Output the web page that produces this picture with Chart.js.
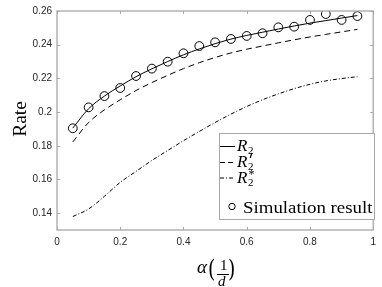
<!DOCTYPE html>
<html><head><meta charset="utf-8">
<script src="https://cdn.jsdelivr.net/npm/chart.js@4/dist/chart.umd.min.js"></script>
<style>html,body{margin:0;padding:0;background:#fff}#wrap{width:382px;height:287px;position:relative}</style>
</head><body><div id="wrap"><canvas id="c" width="382" height="287"></canvas></div>
<script>
const alphas = [0.05,0.10,0.15,0.20,0.25,0.30,0.35,0.40,0.45,0.50,0.55,0.60,0.65,0.70,0.75,0.80,0.85,0.90,0.95];
const r2 = [0.1905,0.2020,0.2095,0.2155,0.2210,0.2257,0.2300,0.2340,0.2375,0.2406,0.2433,0.2455,0.2474,0.2493,0.2511,0.2528,0.2543,0.2558,0.2573];
const r2prime = [0.1823,0.1938,0.2013,0.2073,0.2128,0.2175,0.2218,0.2258,0.2293,0.2324,0.2351,0.2373,0.2392,0.2411,0.2429,0.2446,0.2461,0.2476,0.2491];
const r2star = [0.1380,0.1425,0.1500,0.1583,0.1648,0.1713,0.1772,0.1830,0.1885,0.1938,0.1988,0.2033,0.2073,0.2108,0.2139,0.2165,0.2185,0.2199,0.2210];
const simulation = [0.1904,0.2028,0.2095,0.2143,0.2214,0.2258,0.2299,0.2349,0.2392,0.2414,0.2434,0.2452,0.2468,0.2503,0.2507,0.2547,0.2582,0.2547,0.2570];
const xTicks = [0,0.2,0.4,0.6,0.8,1];
const yTicks = [0.14,0.16,0.18,0.2,0.22,0.24,0.26];
const xTickLabels = ['0','0.2','0.4','0.6','0.8','1'];
const yTickLabels = ['0.14','0.16','0.18','0.2','0.22','0.24','0.26'];
const legendNames = ['R2','R2prime','R2star','Simulation result'];

const pts = arr => alphas.map((a,i)=>({x:a,y:arr[i]}));
const AXIS = '#a8a8a8', TXT = '#262626';

const boxPlugin = {
  id:'box',
  afterDraw(chart){
    const {ctx, chartArea:a, scales:{x,y}} = chart;
    ctx.save();
    ctx.strokeStyle = AXIS; ctx.lineWidth = 1.3;
    ctx.strokeRect(a.left, a.top, a.right-a.left, a.bottom-a.top);
    ctx.lineWidth = 1;
    xTicks.forEach(v=>{const p=Math.round(x.getPixelForValue(v))+0.5;
      ctx.beginPath();ctx.moveTo(p,a.bottom);ctx.lineTo(p,a.bottom-3);ctx.moveTo(p,a.top);ctx.lineTo(p,a.top+3);ctx.stroke();});
    yTicks.forEach(v=>{const p=Math.round(y.getPixelForValue(v))+0.5;
      ctx.beginPath();ctx.moveTo(a.left,p);ctx.lineTo(a.left+3,p);ctx.moveTo(a.right,p);ctx.lineTo(a.right-3,p);ctx.stroke();});
    // axis titles
    ctx.fillStyle = '#000';
    ctx.save();
    ctx.translate(21, 119); ctx.rotate(-Math.PI/2);
    ctx.font = '18px "Liberation Serif"'; ctx.textAlign='center'; ctx.textBaseline='middle';
    ctx.scale(1.08,1);
    ctx.fillText('Rate',0,0);
    ctx.restore();
    // x title alpha(1/d)
    ctx.textBaseline='alphabetic'; ctx.textAlign='left';
    ctx.font = 'italic 19px "Liberation Serif"';
    ctx.fillText('α',197,273);
    ctx.font = '300 25px "DejaVu Serif"';
    ctx.save(); ctx.scale(0.75,1); ctx.fillText('(',208/0.75,277); ctx.fillText(')',228/0.75,277); ctx.restore();
    ctx.font = '15px "Liberation Serif"';
    ctx.fillText('1',220,270);
    ctx.beginPath(); ctx.moveTo(217,274.5); ctx.lineTo(229,274.5); ctx.strokeStyle='#000'; ctx.lineWidth=1; ctx.stroke();
    ctx.font = 'italic 15px "Liberation Serif"';
    ctx.fillText('d',218,286);
    // legend
    const L={x:219.5,y:133.5,w:155,h:86};
    ctx.fillStyle='#fff'; ctx.fillRect(L.x,L.y,L.w,L.h);
    ctx.strokeStyle=AXIS; ctx.lineWidth=1; ctx.strokeRect(L.x,L.y,L.w,L.h);
    ctx.strokeStyle='#000'; ctx.fillStyle='#000';
    const rows=[146,162,177.5,206.5];
    const dashes=[[],[5,3],[4,2,1,2]];
    for(let i=0;i<3;i++){
      ctx.setLineDash(dashes[i]); ctx.beginPath(); ctx.moveTo(220,rows[i]+0.5); ctx.lineTo(235,rows[i]+0.5); ctx.stroke();
    }
    ctx.setLineDash([]);
    ctx.beginPath(); ctx.arc(232,rows[3],3.2,0,Math.PI*2); ctx.stroke();
    const base = r=>r+5;
    for(let i=0;i<3;i++){
      ctx.font='italic 17px "Liberation Serif"'; ctx.fillText('R',237,base(rows[i]));
      ctx.font='11px "Liberation Serif"'; ctx.fillText('2',248,base(rows[i])+3);
    }
    // prime mark
    ctx.lineWidth=1.2; ctx.beginPath(); ctx.moveTo(251.8,rows[1]-9); ctx.lineTo(250.2,rows[1]-4); ctx.stroke();
    ctx.font='12px "Liberation Serif"'; ctx.fillText('*',248.5,base(rows[2])-5);
    ctx.save(); ctx.font='17px "Liberation Serif"'; ctx.translate(243,base(rows[3])+1); ctx.scale(1.11,1); ctx.fillText('Simulation result',0,0); ctx.restore();
    ctx.restore();
  }
};

new Chart(document.getElementById('c'),{
  type:'line',
  data:{datasets:[
    {label:legendNames[0],data:pts(r2),borderColor:'#000',borderWidth:1,pointRadius:0,fill:false,cubicInterpolationMode:'monotone'},
    {label:legendNames[1],data:pts(r2prime),borderColor:'#000',borderWidth:1,borderDash:[6,4],pointRadius:0,fill:false,cubicInterpolationMode:'monotone'},
    {label:legendNames[2],data:pts(r2star),borderColor:'#000',borderWidth:1,borderDash:[4,2,1,2],pointRadius:0,fill:false,cubicInterpolationMode:'monotone'},
    {label:legendNames[3],data:pts(simulation),showLine:false,borderColor:'#000',backgroundColor:'rgba(0,0,0,0)',pointBorderColor:'#000',pointBackgroundColor:'rgba(0,0,0,0)',pointRadius:4.4,pointBorderWidth:1}
  ]},
  options:{
    responsive:false,animation:false,
    layout:{padding:{top:11,right:5,left:0,bottom:0}},
    plugins:{legend:{display:false},tooltip:{enabled:false}},
    scales:{
      x:{type:'linear',min:0,max:1,
        afterBuildTicks(s){s.ticks=xTicks.map(v=>({value:v}));},
        afterFit(s){s.height=57;},
        grid:{display:false,drawTicks:false},border:{display:false},
        ticks:{padding:6,color:TXT,font:{family:'"Liberation Sans"',size:10},maxRotation:0,
          callback:(v)=>xTickLabels[xTicks.indexOf(v)] ?? ''}},
      y:{type:'linear',min:0.13,max:0.26,
        afterBuildTicks(s){s.ticks=yTicks.map(v=>({value:v}));},
        afterFit(s){s.width=57;},
        grid:{display:false,drawTicks:false},border:{display:false},
        ticks:{padding:5,color:TXT,font:{family:'"Liberation Sans"',size:10},
          callback:(v)=>{const i=yTicks.findIndex(t=>Math.abs(t-v)<1e-9);return i>=0?yTickLabels[i]:'';}}}
    }
  },
  plugins:[boxPlugin]
});
</script></body></html>
